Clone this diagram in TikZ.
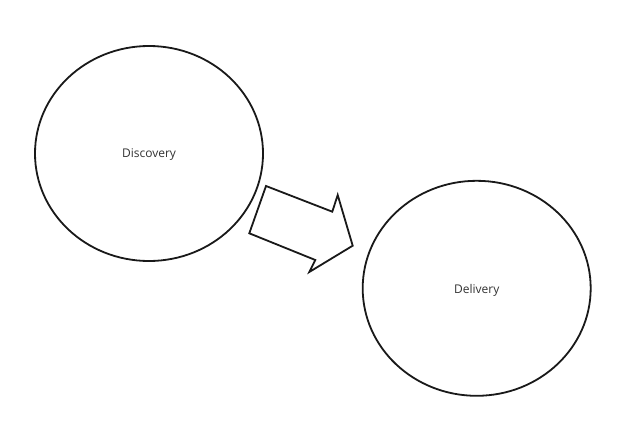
\documentclass[tikz,border=0pt]{standalone}
\usepackage{fontspec}
\setmainfont{Open Sans}
\usetikzlibrary{shapes.geometric}
\begin{document}
\begin{tikzpicture}[x=1pt,y=-1pt,
  circ/.style={draw=black!90,line width=1.8pt,ellipse,minimum width=228pt,minimum height=215pt,inner sep=0pt,font=\fontsize{12}{14}\selectfont,text=black!80},
  blockarrow/.style={draw=black!90,line width=1.8pt,line join=miter}]
\useasboundingbox (0,0) rectangle (635,434);
\fill[white] (0,0) rectangle (635,434);
\node[circ] (disc) at (149,153.5) {};
\node[circ] (deliv) at (476.7,288.3) {};
\node[font=\fontsize{12}{14}\selectfont,text=black!80] (disct) at (149,155) {Discovery};
\node[font=\fontsize{12}{14}\selectfont,text=black!80] (delivt) at (476.7,290) {Delivery};
\coordinate (a1) at (266,186);
\coordinate (a2) at (332.3,211.7);
\coordinate (a3) at (337.7,195);
\coordinate (a4) at (352.7,245.7);
\coordinate (a5) at (309.3,272);
\coordinate (a6) at (315.3,260);
\coordinate (a7) at (249.3,233.3);
\draw[blockarrow] (a1) -- (a2) -- (a3) -- (a4) -- (a5) -- (a6) -- (a7) -- cycle;
\end{tikzpicture}
\end{document}
